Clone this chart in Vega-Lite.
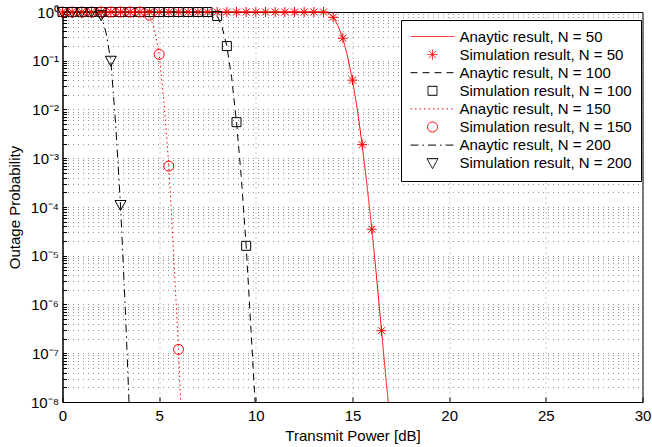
{
  "$schema": "https://vega.github.io/schema/vega-lite/v6.json",
  "width": 580,
  "height": 390,
  "autosize": {"type": "none"},
  "padding": {"left": 62.5, "top": 12, "right": 9.5, "bottom": 45},
  "background": "white",
  "config": {
    "view": {"stroke": "black", "strokeWidth": 1},
    "font": "Liberation Sans",
    "axis": {
      "labelFont": "Liberation Sans", "labelFontSize": 15, "labelColor": "black",
      "titleFont": "Liberation Sans", "titleFontSize": 15, "titleFontWeight": "normal", "titleColor": "black",
      "domainColor": "black", "tickColor": "black", "gridColor": "black", "gridDash": [1, 4], "gridOpacity": 0.42, "gridWidth": 1
    },
    "legend": {
      "title": null, "orient": "none", "legendX": 338.5, "legendY": 8,
      "fillColor": "white", "strokeColor": "black", "padding": 9,
      "labelFont": "Liberation Sans", "labelFontSize": 15, "labelColor": "black",
      "symbolSize": 4, "symbolStrokeWidth": 1, "symbolOffset": 15, "labelOffset": 19.5, "rowPadding": 2.1, "labelLimit": 300
    }
  },
  "data": {"values": [
    {"s": "Anaytic result, N = 50", "x": 0, "y": 1},
    {"s": "Anaytic result, N = 50", "x": 13, "y": 1},
    {"s": "Anaytic result, N = 50", "x": 13.5, "y": 0.995},
    {"s": "Anaytic result, N = 50", "x": 13.75, "y": 0.95},
    {"s": "Anaytic result, N = 50", "x": 14, "y": 0.79},
    {"s": "Anaytic result, N = 50", "x": 14.25, "y": 0.52},
    {"s": "Anaytic result, N = 50", "x": 14.5, "y": 0.29},
    {"s": "Anaytic result, N = 50", "x": 14.75, "y": 0.12},
    {"s": "Anaytic result, N = 50", "x": 15, "y": 0.04},
    {"s": "Anaytic result, N = 50", "x": 15.25, "y": 0.01},
    {"s": "Anaytic result, N = 50", "x": 15.5, "y": 0.0019},
    {"s": "Anaytic result, N = 50", "x": 15.75, "y": 0.00028},
    {"s": "Anaytic result, N = 50", "x": 16, "y": 3.5e-5},
    {"s": "Anaytic result, N = 50", "x": 16.25, "y": 3.5e-6},
    {"s": "Anaytic result, N = 50", "x": 16.5, "y": 2.9e-7},
    {"s": "Anaytic result, N = 50", "x": 16.75, "y": 2.5e-8},
    {"s": "Anaytic result, N = 50", "x": 16.85, "y": 1e-8},
    {"s": "Anaytic result, N = 100", "x": 0, "y": 1},
    {"s": "Anaytic result, N = 100", "x": 7.25, "y": 1},
    {"s": "Anaytic result, N = 100", "x": 7.5, "y": 0.995},
    {"s": "Anaytic result, N = 100", "x": 7.75, "y": 0.96},
    {"s": "Anaytic result, N = 100", "x": 8, "y": 0.83},
    {"s": "Anaytic result, N = 100", "x": 8.25, "y": 0.5},
    {"s": "Anaytic result, N = 100", "x": 8.5, "y": 0.2},
    {"s": "Anaytic result, N = 100", "x": 8.75, "y": 0.045},
    {"s": "Anaytic result, N = 100", "x": 9, "y": 0.0055},
    {"s": "Anaytic result, N = 100", "x": 9.25, "y": 0.0004},
    {"s": "Anaytic result, N = 100", "x": 9.5, "y": 1.6e-5},
    {"s": "Anaytic result, N = 100", "x": 9.75, "y": 3e-7},
    {"s": "Anaytic result, N = 100", "x": 9.96, "y": 1e-8},
    {"s": "Anaytic result, N = 150", "x": 0, "y": 1},
    {"s": "Anaytic result, N = 150", "x": 3.75, "y": 1},
    {"s": "Anaytic result, N = 150", "x": 4, "y": 0.995},
    {"s": "Anaytic result, N = 150", "x": 4.25, "y": 0.97},
    {"s": "Anaytic result, N = 150", "x": 4.5, "y": 0.86},
    {"s": "Anaytic result, N = 150", "x": 4.75, "y": 0.45},
    {"s": "Anaytic result, N = 150", "x": 5, "y": 0.135},
    {"s": "Anaytic result, N = 150", "x": 5.25, "y": 0.014},
    {"s": "Anaytic result, N = 150", "x": 5.5, "y": 0.0007},
    {"s": "Anaytic result, N = 150", "x": 5.75, "y": 1.1e-5},
    {"s": "Anaytic result, N = 150", "x": 6, "y": 1.2e-7},
    {"s": "Anaytic result, N = 150", "x": 6.11, "y": 1e-8},
    {"s": "Anaytic result, N = 200", "x": 0, "y": 1},
    {"s": "Anaytic result, N = 200", "x": 1.5, "y": 1},
    {"s": "Anaytic result, N = 200", "x": 1.75, "y": 0.97},
    {"s": "Anaytic result, N = 200", "x": 2, "y": 0.86},
    {"s": "Anaytic result, N = 200", "x": 2.25, "y": 0.38},
    {"s": "Anaytic result, N = 200", "x": 2.5, "y": 0.1},
    {"s": "Anaytic result, N = 200", "x": 2.75, "y": 0.005},
    {"s": "Anaytic result, N = 200", "x": 3, "y": 0.00011},
    {"s": "Anaytic result, N = 200", "x": 3.25, "y": 8e-7},
    {"s": "Anaytic result, N = 200", "x": 3.44, "y": 1e-8},

    {"s": "Simulation result, N = 50", "x": 0, "y": 1},
    {"s": "Simulation result, N = 50", "x": 0.5, "y": 1},
    {"s": "Simulation result, N = 50", "x": 1, "y": 1},
    {"s": "Simulation result, N = 50", "x": 1.5, "y": 1},
    {"s": "Simulation result, N = 50", "x": 2, "y": 1},
    {"s": "Simulation result, N = 50", "x": 2.5, "y": 1},
    {"s": "Simulation result, N = 50", "x": 3, "y": 1},
    {"s": "Simulation result, N = 50", "x": 3.5, "y": 1},
    {"s": "Simulation result, N = 50", "x": 4, "y": 1},
    {"s": "Simulation result, N = 50", "x": 4.5, "y": 1},
    {"s": "Simulation result, N = 50", "x": 5, "y": 1},
    {"s": "Simulation result, N = 50", "x": 5.5, "y": 1},
    {"s": "Simulation result, N = 50", "x": 6, "y": 1},
    {"s": "Simulation result, N = 50", "x": 6.5, "y": 1},
    {"s": "Simulation result, N = 50", "x": 7, "y": 1},
    {"s": "Simulation result, N = 50", "x": 7.5, "y": 1},
    {"s": "Simulation result, N = 50", "x": 8, "y": 1},
    {"s": "Simulation result, N = 50", "x": 8.5, "y": 1},
    {"s": "Simulation result, N = 50", "x": 9, "y": 1},
    {"s": "Simulation result, N = 50", "x": 9.5, "y": 1},
    {"s": "Simulation result, N = 50", "x": 10, "y": 1},
    {"s": "Simulation result, N = 50", "x": 10.5, "y": 1},
    {"s": "Simulation result, N = 50", "x": 11, "y": 1},
    {"s": "Simulation result, N = 50", "x": 11.5, "y": 1},
    {"s": "Simulation result, N = 50", "x": 12, "y": 1},
    {"s": "Simulation result, N = 50", "x": 12.5, "y": 1},
    {"s": "Simulation result, N = 50", "x": 13, "y": 1},
    {"s": "Simulation result, N = 50", "x": 13.5, "y": 1},
    {"s": "Simulation result, N = 50", "x": 14, "y": 0.78},
    {"s": "Simulation result, N = 50", "x": 14.5, "y": 0.29},
    {"s": "Simulation result, N = 50", "x": 15, "y": 0.04},
    {"s": "Simulation result, N = 50", "x": 15.5, "y": 0.0019},
    {"s": "Simulation result, N = 50", "x": 16, "y": 3.5e-5},
    {"s": "Simulation result, N = 50", "x": 16.5, "y": 2.9e-7},
    {"s": "Simulation result, N = 100", "x": 0, "y": 1},
    {"s": "Simulation result, N = 100", "x": 0.5, "y": 1},
    {"s": "Simulation result, N = 100", "x": 1, "y": 1},
    {"s": "Simulation result, N = 100", "x": 1.5, "y": 1},
    {"s": "Simulation result, N = 100", "x": 2, "y": 1},
    {"s": "Simulation result, N = 100", "x": 2.5, "y": 1},
    {"s": "Simulation result, N = 100", "x": 3, "y": 1},
    {"s": "Simulation result, N = 100", "x": 3.5, "y": 1},
    {"s": "Simulation result, N = 100", "x": 4, "y": 1},
    {"s": "Simulation result, N = 100", "x": 4.5, "y": 1},
    {"s": "Simulation result, N = 100", "x": 5, "y": 1},
    {"s": "Simulation result, N = 100", "x": 5.5, "y": 1},
    {"s": "Simulation result, N = 100", "x": 6, "y": 1},
    {"s": "Simulation result, N = 100", "x": 6.5, "y": 1},
    {"s": "Simulation result, N = 100", "x": 7, "y": 1},
    {"s": "Simulation result, N = 100", "x": 7.5, "y": 1},
    {"s": "Simulation result, N = 100", "x": 8, "y": 0.83},
    {"s": "Simulation result, N = 100", "x": 8.5, "y": 0.2},
    {"s": "Simulation result, N = 100", "x": 9, "y": 0.0055},
    {"s": "Simulation result, N = 100", "x": 9.5, "y": 1.6e-5},
    {"s": "Simulation result, N = 150", "x": 0, "y": 1},
    {"s": "Simulation result, N = 150", "x": 0.5, "y": 1},
    {"s": "Simulation result, N = 150", "x": 1, "y": 1},
    {"s": "Simulation result, N = 150", "x": 1.5, "y": 1},
    {"s": "Simulation result, N = 150", "x": 2, "y": 1},
    {"s": "Simulation result, N = 150", "x": 2.5, "y": 1},
    {"s": "Simulation result, N = 150", "x": 3, "y": 1},
    {"s": "Simulation result, N = 150", "x": 3.5, "y": 1},
    {"s": "Simulation result, N = 150", "x": 4, "y": 1},
    {"s": "Simulation result, N = 150", "x": 4.5, "y": 0.86},
    {"s": "Simulation result, N = 150", "x": 5, "y": 0.135},
    {"s": "Simulation result, N = 150", "x": 5.5, "y": 0.00069},
    {"s": "Simulation result, N = 150", "x": 6, "y": 1.2e-7},
    {"s": "Simulation result, N = 200", "x": 0, "y": 1},
    {"s": "Simulation result, N = 200", "x": 0.5, "y": 1},
    {"s": "Simulation result, N = 200", "x": 1, "y": 1},
    {"s": "Simulation result, N = 200", "x": 1.5, "y": 1},
    {"s": "Simulation result, N = 200", "x": 2, "y": 0.86},
    {"s": "Simulation result, N = 200", "x": 2.5, "y": 0.1},
    {"s": "Simulation result, N = 200", "x": 3, "y": 0.00011}
  ]},
  "encoding": {
    "x": {"field": "x", "type": "quantitative", "scale": {"domain": [0, 30], "nice": false},
      "axis": {"values": [0, 5, 10, 15, 20, 25, 30], "title": "Transmit Power [dB]", "grid": true, "tickSize": -5, "labelPadding": 11, "labelFlush": false, "titlePadding": 5}},
    "y": {"field": "y", "type": "quantitative", "scale": {"type": "log", "domain": [1e-8, 1], "nice": false},
      "axis": {"title": "Outage Probability", "grid": true, "tickSize": -4, "labelPadding": 8, "titlePadding": 8, "labelOverlap": false,
        "values": [1, 0.9, 0.8, 0.7, 0.6, 0.5, 0.4, 0.3, 0.2, 0.1, 0.09, 0.08, 0.07, 0.06, 0.05, 0.04, 0.03, 0.02, 0.01, 0.009, 0.008, 0.007, 0.006, 0.005, 0.004, 0.003, 0.002, 0.001, 9e-4, 8e-4, 7e-4, 6e-4, 5e-4, 4e-4, 3e-4, 2e-4, 1e-4, 9e-5, 8e-5, 7e-5, 6e-5, 5e-5, 4e-5, 3e-5, 2e-5, 1e-5, 9e-6, 8e-6, 7e-6, 6e-6, 5e-6, 4e-6, 3e-6, 2e-6, 1e-6, 9e-7, 8e-7, 7e-7, 6e-7, 5e-7, 4e-7, 3e-7, 2e-7, 1e-7, 9e-8, 8e-8, 7e-8, 6e-8, 5e-8, 4e-8, 3e-8, 2e-8, 1e-8],
        "labelExpr": "abs(log(datum.value)/LN10 - round(log(datum.value)/LN10)) < 0.001 ? '10' + ['⁰','⁻¹','⁻²','⁻³','⁻⁴','⁻⁵','⁻⁶','⁻⁷','⁻⁸'][-round(log(datum.value)/LN10)] : ''"}},
    "color": {"field": "s", "type": "nominal",
      "scale": {"domain": ["Anaytic result, N = 50", "Simulation result, N = 50", "Anaytic result, N = 100", "Simulation result, N = 100", "Anaytic result, N = 150", "Simulation result, N = 150", "Anaytic result, N = 200", "Simulation result, N = 200"],
        "range": ["#ff0000", "#ff0000", "#000000", "#000000", "#ff0000", "#ff0000", "#000000", "#000000"]}}
  },
  "layer": [
    {
      "transform": [{"filter": "indexof(datum.s, 'Anaytic') === 0"}],
      "mark": {"type": "line", "strokeWidth": 1},
      "encoding": {
        "strokeDash": {"field": "s", "type": "nominal",
          "scale": {"domain": ["Anaytic result, N = 50", "Simulation result, N = 50", "Anaytic result, N = 100", "Simulation result, N = 100", "Anaytic result, N = 150", "Simulation result, N = 150", "Anaytic result, N = 200", "Simulation result, N = 200"],
            "range": [[1, 0], [1, 0], [7, 5], [1, 0], [1.5, 3], [1, 0], [8, 4, 1.5, 4], [1, 0]]}}
      }
    },
    {
      "transform": [{"filter": "indexof(datum.s, 'Simulation') === 0"}],
      "mark": {"type": "point", "filled": false, "size": 4, "strokeWidth": 1, "opacity": 1},
      "encoding": {
        "shape": {"field": "s", "type": "nominal",
          "scale": {"domain": ["Anaytic result, N = 50", "Simulation result, N = 50", "Anaytic result, N = 100", "Simulation result, N = 100", "Anaytic result, N = 150", "Simulation result, N = 150", "Anaytic result, N = 200", "Simulation result, N = 200"],
            "range": ["M-22,0H22", "M-5,0H5M0,-5V5M-3.5,-3.5L3.5,3.5M-3.5,3.5L3.5,-3.5", "M-22,0H22", "M-4.5,-4.5H4.5V4.5H-4.5Z", "M-22,0H22", "M-5,0A5,5 0 1,0 5,0A5,5 0 1,0 -5,0Z", "M-22,0H22", "M-5.5,-4.5H5.5L0,5.5Z"]}}
      }
    }
  ]
}
